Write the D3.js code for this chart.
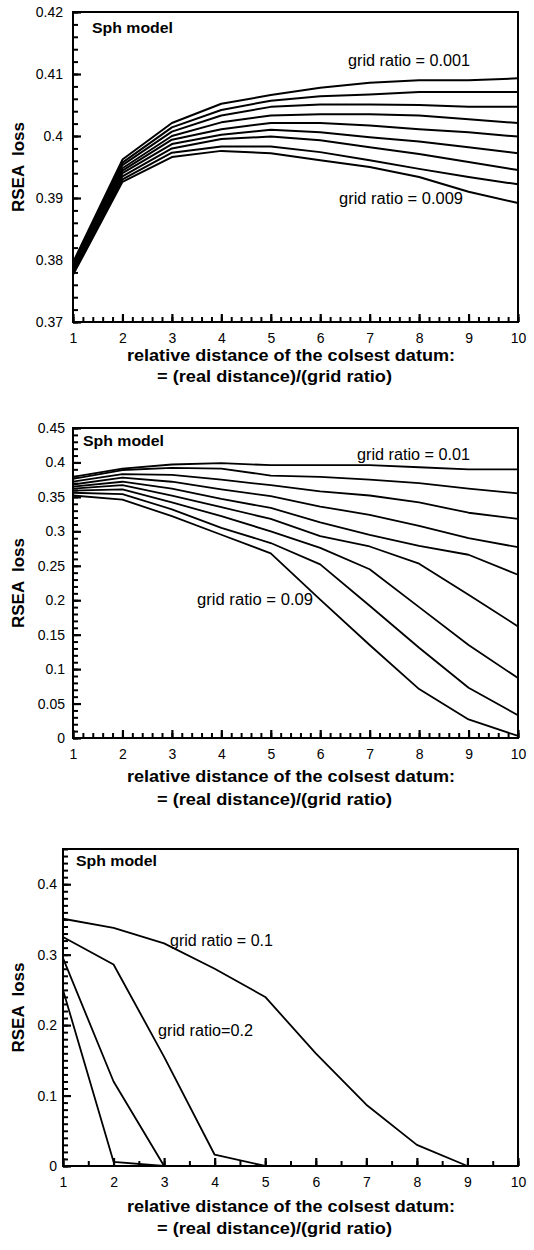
<!DOCTYPE html>
<html>
<head>
<meta charset="utf-8">
<script src="https://cdn.jsdelivr.net/npm/d3@7"></script>
<style>
  body { margin: 0; background: #fff; }
  text { font-family: "Liberation Sans", Arial, Helvetica, sans-serif; fill: #000; }
</style>
</head>
<body>
<svg id="chart" width="534" height="1250"></svg>
<script>
// relative distance of the closest datum (x for every curve)
const distance = [1, 2, 3, 4, 5, 6, 7, 8, 9, 10];

// Panel 1: small grid ratios 0.001 ... 0.009
const fineRatios = [0.001, 0.002, 0.003, 0.004, 0.005, 0.006, 0.007, 0.008, 0.009];
const fineLoss = [
  [0.3796, 0.3962, 0.4021, 0.4052, 0.4066, 0.4078, 0.4086, 0.4090, 0.4090, 0.4093],
  [0.3794, 0.3957, 0.4014, 0.4042, 0.4057, 0.4064, 0.4067, 0.4071, 0.4071, 0.4071],
  [0.3791, 0.3953, 0.4007, 0.4033, 0.4047, 0.4051, 0.4051, 0.4050, 0.4047, 0.4047],
  [0.3789, 0.3948, 0.4000, 0.4022, 0.4033, 0.4035, 0.4035, 0.4033, 0.4027, 0.4021],
  [0.3786, 0.3944, 0.3994, 0.4011, 0.4021, 0.4021, 0.4017, 0.4011, 0.4006, 0.3999],
  [0.3784, 0.3940, 0.3987, 0.4002, 0.4010, 0.4006, 0.3998, 0.3991, 0.3982, 0.3972],
  [0.3781, 0.3935, 0.3980, 0.3995, 0.3999, 0.3993, 0.3982, 0.3971, 0.3958, 0.3945],
  [0.3779, 0.3930, 0.3973, 0.3983, 0.3983, 0.3974, 0.3961, 0.3947, 0.3934, 0.3922],
  [0.3776, 0.3926, 0.3966, 0.3976, 0.3972, 0.3961, 0.3950, 0.3934, 0.3910, 0.3892]
];
const fineTicks = [0.37, 0.38, 0.39, 0.40, 0.41, 0.42];

// Panel 2: medium grid ratios 0.01 ... 0.09
const mediumRatios = [0.01, 0.02, 0.03, 0.04, 0.05, 0.06, 0.07, 0.08, 0.09];
const mediumLoss = [
  [0.379, 0.391, 0.397, 0.399, 0.396, 0.396, 0.396, 0.393, 0.390, 0.390],
  [0.376, 0.389, 0.392, 0.391, 0.381, 0.379, 0.375, 0.370, 0.362, 0.355],
  [0.372, 0.383, 0.382, 0.375, 0.367, 0.358, 0.352, 0.342, 0.327, 0.318],
  [0.368, 0.378, 0.372, 0.361, 0.351, 0.336, 0.324, 0.308, 0.290, 0.277],
  [0.365, 0.372, 0.362, 0.347, 0.334, 0.313, 0.295, 0.279, 0.266, 0.237],
  [0.362, 0.367, 0.352, 0.335, 0.318, 0.293, 0.278, 0.253, 0.208, 0.162],
  [0.359, 0.361, 0.342, 0.322, 0.300, 0.276, 0.245, 0.190, 0.135, 0.087],
  [0.356, 0.354, 0.332, 0.305, 0.283, 0.252, 0.192, 0.131, 0.073, 0.033],
  [0.352, 0.346, 0.322, 0.295, 0.268, 0.201, 0.135, 0.071, 0.027, 0.003]
];
const mediumTicks = [0, 0.05, 0.1, 0.15, 0.2, 0.25, 0.3, 0.35, 0.4, 0.45];

// Panel 3: coarse grid ratios (curves stop once the loss reaches zero)
const coarseRatios = [0.1, 0.2, 0.3, 0.4];
const coarseLoss = [
  [0.351, 0.338, 0.316, 0.280, 0.240, 0.160, 0.087, 0.030, 0],
  [0.325, 0.286, 0.155, 0.016, 0],
  [0.295, 0.120, 0],
  [0.250, 0.006, 0]
];
const coarseTicks = [0, 0.1, 0.2, 0.3, 0.4];

const svg = d3.select("#chart");
const fmt = d => String(+d.toFixed(3));

function label(g, x, y, str, size, bold, width) {
  const t = g.append("text").attr("x", x).attr("y", y)
    .attr("font-size", size).attr("font-weight", bold ? "bold" : "normal")
    .style("white-space", "pre").text(str);
  if (width) t.attr("textLength", width).attr("lengthAdjust", "spacingAndGlyphs");
  return t;
}

function drawPanel(p) {
  const x = d3.scaleLinear().domain([1, 10]).range([p.left, p.right]);
  const y = d3.scaleLinear().domain(p.yDomain).range([p.bottom, p.top]);
  const g = svg.append("g");

  // minor ticks, pointing into the plot
  g.append("g").attr("transform", `translate(0,${p.bottom})`)
    .call(d3.axisBottom(x).tickValues(d3.range(1, 10.0001, p.xMinorStep)).tickSize(-5).tickFormat(""))
    .call(a => a.select(".domain").remove())
    .call(a => a.selectAll("line").attr("stroke", "#000").attr("stroke-width", 2));
  g.append("g").attr("transform", `translate(${p.left},0)`)
    .call(d3.axisLeft(y).tickValues(d3.range(p.yDomain[0], p.yDomain[1] + 1e-9, p.yMinorStep)).tickSize(-5).tickFormat(""))
    .call(a => a.select(".domain").remove())
    .call(a => a.selectAll("line").attr("stroke", "#000").attr("stroke-width", 2));

  // major ticks with labels
  g.append("g").attr("transform", `translate(0,${p.bottom})`)
    .call(d3.axisBottom(x).tickValues(distance).tickSizeInner(-8).tickSizeOuter(0).tickPadding(11).tickFormat(d3.format("d")))
    .call(a => a.select(".domain").remove())
    .call(a => a.selectAll("line").attr("stroke", "#000").attr("stroke-width", 2.2))
    .call(a => a.selectAll("text").attr("font-size", 14).attr("font-family", null).attr("fill", "#000"));
  g.append("g").attr("transform", `translate(${p.left},0)`)
    .call(d3.axisLeft(y).tickValues(p.yTicks).tickSizeInner(-8).tickSizeOuter(0).tickPadding(p.yPad).tickFormat(fmt))
    .call(a => a.select(".domain").remove())
    .call(a => a.selectAll("line").attr("stroke", "#000").attr("stroke-width", 2.2))
    .call(a => a.selectAll("text").attr("font-size", 14).attr("font-family", null).attr("fill", "#000"));

  // curves
  const line = d3.line().x((d, i) => x(distance[i])).y(d => y(d));
  g.append("g").selectAll("path").data(p.series).join("path")
    .attr("d", d => line(d))
    .attr("fill", "none").attr("stroke", "#000")
    .attr("stroke-width", p.lineWidth).attr("stroke-linejoin", "round");

  // frame
  g.append("rect").attr("x", p.left).attr("y", p.top)
    .attr("width", p.right - p.left).attr("height", p.bottom - p.top)
    .attr("fill", "none").attr("stroke", "#000").attr("stroke-width", 2);

  // annotations
  label(g, p.model[0], p.model[1], "Sph model", 14, true, 81);
  p.notes.forEach(n => label(g, n.x, n.y, n.text, 16, false, n.w));

  // axis titles
  label(g, 127, p.bottom + p.xTitle[0], "relative distance of the colsest datum:", 16, true, 328);
  label(g, 157, p.bottom + p.xTitle[1], "= (real distance)/(grid ratio)", 16, true, 235);
  g.append("text").attr("transform", `translate(24,${(p.top + p.bottom) / 2}) rotate(-90)`)
    .attr("text-anchor", "middle").attr("font-size", 16).attr("font-weight", "bold")
    .attr("textLength", 90).attr("lengthAdjust", "spacingAndGlyphs")
    .style("white-space", "pre").text("RSEA  loss");
}

drawPanel({
  left: 73, right: 518, top: 12, bottom: 322,
  yDomain: [0.37, 0.42], yTicks: fineTicks, yMinorStep: 0.002, xMinorStep: 0.2, yPad: 10,
  series: fineLoss, lineWidth: 2,
  model: [92, 33], xTitle: [39, 60],
  notes: [
    { x: 348, y: 66, w: 122, text: `grid ratio = ${fineRatios[0]}` },
    { x: 339, y: 204, w: 124, text: `grid ratio = ${fineRatios[8]}` }
  ]
});

drawPanel({
  left: 73, right: 518, top: 428, bottom: 738,
  yDomain: [0, 0.45], yTicks: mediumTicks, yMinorStep: 0.01, xMinorStep: 0.2, yPad: 8,
  series: mediumLoss, lineWidth: 1.8,
  model: [83, 446], xTitle: [44, 67],
  notes: [
    { x: 357, y: 460, w: 113, text: `grid ratio = ${mediumRatios[0]}` },
    { x: 197, y: 605, w: 116, text: `grid ratio = ${mediumRatios[8]}` }
  ]
});

drawPanel({
  left: 63, right: 518, top: 849, bottom: 1166,
  yDomain: [0, 0.45], yTicks: coarseTicks, yMinorStep: 0.01, xMinorStep: 0.5, yPad: 6,
  series: coarseLoss, lineWidth: 1.8,
  model: [76, 866], xTitle: [46, 68],
  notes: [
    { x: 170, y: 946, w: 103, text: `grid ratio = ${coarseRatios[0]}` },
    { x: 158, y: 1036, w: 95, text: `grid ratio=${coarseRatios[1]}` }
  ]
});
</script>
</body>
</html>
